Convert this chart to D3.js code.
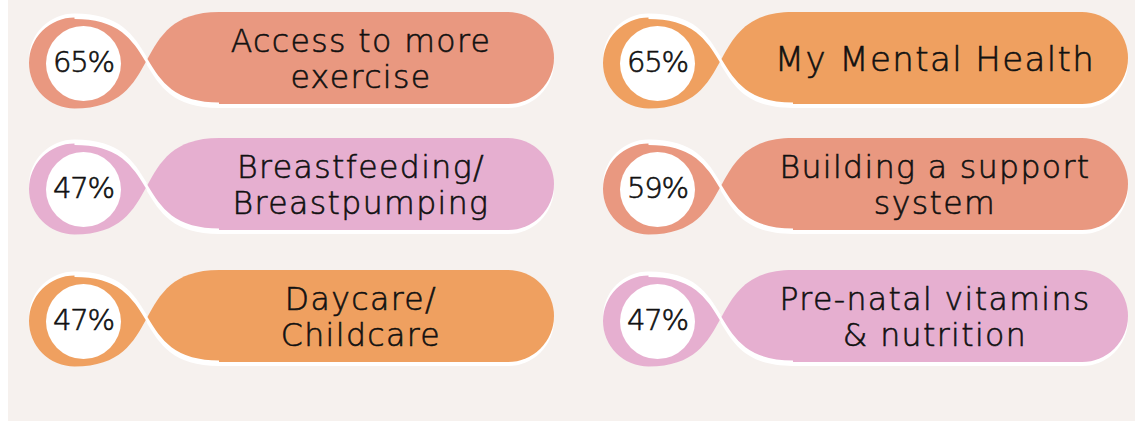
<!DOCTYPE html>
<html><head><meta charset="utf-8">
<script src="https://cdn.jsdelivr.net/npm/d3@7"></script>
<style>html,body{margin:0;padding:0;background:#fff;} svg{display:block;}</style>
</head><body>
<svg id="chart" width="1135" height="421"></svg>
<script>
// ---- data ----
const categories = ["Access to more exercise","Breastfeeding/Breastpumping","Daycare/Childcare","My Mental Health","Building a support system","Pre-natal vitamins & nutrition"];
const labelLines = [["Access to more","exercise"],["Breastfeeding/","Breastpumping"],["Daycare/","Childcare"],["My Mental Health"],["Building a support","system"],["Pre-natal vitamins","& nutrition"]];
const values = [65,47,47,65,59,47];
const columns = [0,0,0,1,1,1];
const rows = [0,1,2,0,1,2];
const colorGroups = ["salmon","pink","orange","orange","salmon","pink"];

// ---- styles / layout ----
const palette = d3.scaleOrdinal().domain(["salmon","pink","orange"]).range(["#E99880","#E6AFD0","#EFA060"]);
const xCol = d3.scaleOrdinal().domain([0,1]).range([29,603]);
const yRow = d3.scaleOrdinal().domain([0,1,2]).range([12,138,270]);
const fmt = d3.format(".0%");
const FONT = "'DejaVu Sans', sans-serif";

const svg = d3.select("#chart");
svg.append("rect").attr("x",8).attr("y",0).attr("width",1127).attr("height",421).attr("fill","#F6F1EE");

const H = 92, R = 45.5, K = 92, W = 525;

function lerp(a,b,t){return [a[0]+(b[0]-a[0])*t, a[1]+(b[1]-a[1])*t];}
function split(P0,P1,P2,P3){
  const a=lerp(P0,P1,.5), b=lerp(P1,P2,.5), c=lerp(P2,P3,.5);
  const d=lerp(a,b,.5), e=lerp(b,c,.5), m=lerp(d,e,.5);
  return [[P0,a,d,m],[m,e,c,P3]];
}
function geom(x0,y0){
  const cx=x0+R, cy=y0+51, xs=x0+190, xe=x0+W-H/2, top=y0, bot=y0+H;
  const A=[[cx,cy-R],[cx+K,cy-R],[xs-K,bot],[xs,bot]];
  const B=[[xs,top],[xs-K,top],[cx+K,cy+R],[cx,cy+R]];
  return {cx,cy,xs,xe,top,bot,A,B,As:split(...A),Bs:split(...B)};
}
function leftLobe(g){
  const p=d3.path(); const a=g.As[0], b=g.Bs[1];
  p.moveTo(...a[0]); p.bezierCurveTo(...a[1],...a[2],...a[3]);
  p.lineTo(...b[0]); p.bezierCurveTo(...b[1],...b[2],...b[3]);
  p.arc(g.cx,g.cy,R,Math.PI/2,3*Math.PI/2,false);
  p.closePath(); return p.toString();
}
function rightLobe(g){
  const p=d3.path(); const b=g.Bs[0], a=g.As[1];
  p.moveTo(...b[0]); p.bezierCurveTo(...b[1],...b[2],...b[3]);
  p.lineTo(...a[0]); p.bezierCurveTo(...a[1],...a[2],...a[3]);
  p.lineTo(g.xe,g.bot);
  p.arc(g.xe,g.top+H/2,H/2,Math.PI/2,-Math.PI/2,true);
  p.closePath(); return p.toString();
}
function curveA(g){
  const p=d3.path(); const A=g.A;
  p.moveTo(...A[0]); p.bezierCurveTo(...A[1],...A[2],...A[3]);
  return p.toString();
}

const items = categories.map((c,i)=>({c,i,lines:labelLines[i],v:values[i],col:columns[i],row:rows[i],g:colorGroups[i]}));

svg.selectAll("g.unit").data(items).join("g").attr("class","unit")
  .each(function(d){
    const x0=xCol(d.col), y0=yRow(d.row), g=geom(x0,y0);
    const s=d3.select(this);
    s.append("path").attr("d",leftLobe(g)).attr("transform","translate(0,-4)").attr("fill","#fff");
    s.append("path").attr("d",rightLobe(g)).attr("transform","translate(0,4)").attr("fill","#fff");
    s.append("path").attr("d",leftLobe(g)).attr("fill",palette(d.g));
    s.append("path").attr("d",rightLobe(g)).attr("fill",palette(d.g));
    s.append("path").attr("d",curveA(g)).attr("fill","none").attr("stroke","#fff").attr("stroke-width",3);
    s.append("circle").attr("cx",x0+54.5).attr("cy",g.cy+0.5).attr("r",37.5).attr("fill","#fff");
    s.append("text").attr("x",x0+54.5).attr("y",g.cy-1.5).attr("dy","0.36em")
      .attr("text-anchor","middle").attr("font-family",FONT).attr("font-weight",200)
      .attr("font-size",29).attr("letter-spacing",-1.2)
      .attr("fill","#111").attr("stroke","#111").attr("stroke-width",0.6)
      .text(fmt(d.v/100));
    const n=d.lines.length, lh=36.5, yc=g.top+H/2+0.5;
    const fs = n===1 ? 34 : 31.5;
    const t = s.append("text").attr("class","lab")
      .attr("text-anchor","middle").attr("font-family",FONT).attr("font-weight",200)
      .attr("font-size",fs).attr("letter-spacing",1.4)
      .attr("fill","#111").attr("stroke","#111").attr("stroke-width",0.6);
    t.selectAll("tspan").data(d.lines).join("tspan")
      .attr("x",x0+332).attr("y",(l,j)=>yc+(j-(n-1)/2)*lh + 0.36*fs).text(l=>l);
  });
</script>
</body></html>
